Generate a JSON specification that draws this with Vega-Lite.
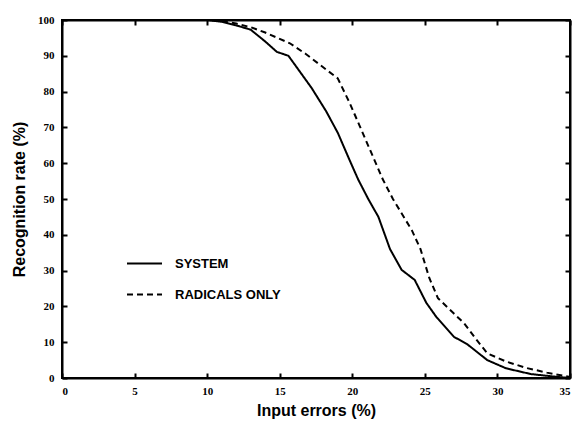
{
  "$schema": "https://vega.github.io/schema/vega-lite/v6.json",
  "width": 508,
  "height": 358,
  "autosize": "none",
  "padding": {"left": 62, "top": 20, "right": 6, "bottom": 48},
  "background": "white",
  "config": {
    "view": {"stroke": "black", "strokeWidth": 2},
    "axis": {"grid": false, "domain": true, "domainColor": "black", "domainWidth": 2, "ticks": true, "tickColor": "black", "tickWidth": 2, "tickSize": -5, "labelColor": "black", "titleColor": "black"}
  },
  "data": {
    "values": [
      {"x": 0, "y": 100, "s": "SYSTEM"},
      {"x": 10, "y": 100, "s": "SYSTEM"},
      {"x": 11, "y": 99.5, "s": "SYSTEM"},
      {"x": 12, "y": 98.5, "s": "SYSTEM"},
      {"x": 13, "y": 97.3, "s": "SYSTEM"},
      {"x": 14, "y": 94, "s": "SYSTEM"},
      {"x": 14.8, "y": 91.1, "s": "SYSTEM"},
      {"x": 15.6, "y": 90, "s": "SYSTEM"},
      {"x": 16.4, "y": 85.5, "s": "SYSTEM"},
      {"x": 17.2, "y": 81, "s": "SYSTEM"},
      {"x": 18.2, "y": 74.5, "s": "SYSTEM"},
      {"x": 19.0, "y": 68.5, "s": "SYSTEM"},
      {"x": 19.8, "y": 61, "s": "SYSTEM"},
      {"x": 20.4, "y": 55.5, "s": "SYSTEM"},
      {"x": 21.1, "y": 50, "s": "SYSTEM"},
      {"x": 21.8, "y": 45, "s": "SYSTEM"},
      {"x": 22.6, "y": 36, "s": "SYSTEM"},
      {"x": 23.4, "y": 30.2, "s": "SYSTEM"},
      {"x": 24.3, "y": 27.4, "s": "SYSTEM"},
      {"x": 25.1, "y": 21, "s": "SYSTEM"},
      {"x": 25.8, "y": 17, "s": "SYSTEM"},
      {"x": 27.0, "y": 11.5, "s": "SYSTEM"},
      {"x": 27.9, "y": 9.5, "s": "SYSTEM"},
      {"x": 29.3, "y": 5, "s": "SYSTEM"},
      {"x": 30.6, "y": 2.7, "s": "SYSTEM"},
      {"x": 32.3, "y": 1.1, "s": "SYSTEM"},
      {"x": 33.9, "y": 0.4, "s": "SYSTEM"},
      {"x": 35, "y": 0, "s": "SYSTEM"},
      {"x": 0, "y": 100, "s": "RADICALS ONLY"},
      {"x": 10, "y": 100, "s": "RADICALS ONLY"},
      {"x": 11, "y": 99.7, "s": "RADICALS ONLY"},
      {"x": 12, "y": 99, "s": "RADICALS ONLY"},
      {"x": 13, "y": 98, "s": "RADICALS ONLY"},
      {"x": 14, "y": 96.5, "s": "RADICALS ONLY"},
      {"x": 15.7, "y": 93.5, "s": "RADICALS ONLY"},
      {"x": 16.8, "y": 90.5, "s": "RADICALS ONLY"},
      {"x": 17.8, "y": 87.4, "s": "RADICALS ONLY"},
      {"x": 19.0, "y": 83.7, "s": "RADICALS ONLY"},
      {"x": 19.8, "y": 77, "s": "RADICALS ONLY"},
      {"x": 20.5, "y": 70.5, "s": "RADICALS ONLY"},
      {"x": 21.3, "y": 63, "s": "RADICALS ONLY"},
      {"x": 22.1, "y": 55.5, "s": "RADICALS ONLY"},
      {"x": 22.8, "y": 50, "s": "RADICALS ONLY"},
      {"x": 24.1, "y": 41.3, "s": "RADICALS ONLY"},
      {"x": 24.7, "y": 36, "s": "RADICALS ONLY"},
      {"x": 25.3, "y": 28, "s": "RADICALS ONLY"},
      {"x": 25.9, "y": 22.3, "s": "RADICALS ONLY"},
      {"x": 27.0, "y": 18, "s": "RADICALS ONLY"},
      {"x": 27.7, "y": 15.3, "s": "RADICALS ONLY"},
      {"x": 28.5, "y": 11, "s": "RADICALS ONLY"},
      {"x": 29.3, "y": 6.9, "s": "RADICALS ONLY"},
      {"x": 30.6, "y": 4.6, "s": "RADICALS ONLY"},
      {"x": 32.0, "y": 2.8, "s": "RADICALS ONLY"},
      {"x": 33.4, "y": 1.5, "s": "RADICALS ONLY"},
      {"x": 35, "y": 0.3, "s": "RADICALS ONLY"}
    ]
  },
  "layer": [
    {
      "mark": {"type": "line", "color": "black", "strokeWidth": 2},
      "encoding": {
        "x": {
          "field": "x", "type": "quantitative",
          "scale": {"domain": [0, 35], "nice": false},
          "axis": {
            "orient": "bottom",
            "values": [0, 5, 10, 15, 20, 25, 30, 35], "labelPadding": 12,
            "labelFont": "Liberation Serif", "labelFontWeight": "bold", "labelFontSize": 11,
            "title": "Input errors (%)", "titleFont": "Liberation Sans", "titleFontWeight": "bold",
            "titleFontSize": 16, "titlePadding": 6
          }
        },
        "y": {
          "field": "y", "type": "quantitative",
          "scale": {"domain": [0, 100], "nice": false},
          "axis": {
            "orient": "left",
            "values": [0, 10, 20, 30, 40, 50, 60, 70, 80, 90, 100], "labelPadding": 13,
            "labelFont": "Liberation Serif", "labelFontWeight": "bold", "labelFontSize": 11,
            "title": "Recognition rate (%)", "titleFont": "Liberation Sans", "titleFontWeight": "bold",
            "titleFontSize": 16, "titlePadding": 10
          }
        },
        "strokeDash": {
          "field": "s", "type": "nominal",
          "scale": {"domain": ["SYSTEM", "RADICALS ONLY"], "range": [[1, 0], [6, 4]]},
          "legend": {
            "orient": "none", "legendX": 64, "legendY": 225, "title": null,
            "symbolType": "stroke", "symbolSize": 1225, "symbolStrokeWidth": 2,
            "symbolStrokeColor": "black",
            "labelFont": "Liberation Sans", "labelFontWeight": "bold", "labelFontSize": 13,
            "labelColor": "black", "labelOffset": 12, "rowPadding": 5
          }
        }
      }
    },
    {
      "mark": {"type": "line", "opacity": 0},
      "encoding": {
        "x": {
          "field": "x", "type": "quantitative",
          "axis": {"orient": "top", "values": [0, 5, 10, 15, 20, 25, 30, 35], "labels": false, "title": null}
        },
        "y": {
          "field": "y", "type": "quantitative",
          "axis": {"orient": "right", "values": [0, 10, 20, 30, 40, 50, 60, 70, 80, 90, 100], "labels": false, "title": null}
        },
        "detail": {"field": "s"}
      }
    }
  ]
}
